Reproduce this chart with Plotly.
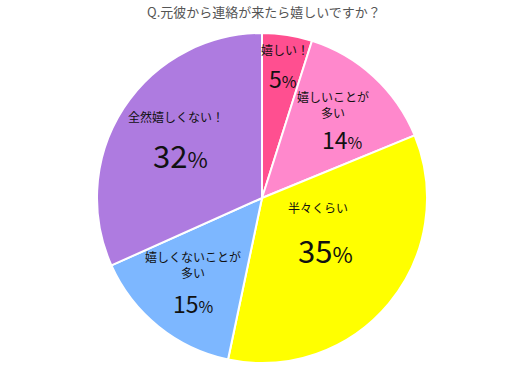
import math
import plotly.graph_objects as go

# ---- data ----
categories = ["嬉しい！", "嬉しいことが<br>多い", "半々くらい", "嬉しくないことが<br>多い", "全然嬉しくない！"]
values = [4.9, 13.9, 34.5, 15.0, 31.7]
pct_labels = ["5", "14", "35", "15", "32"]
title_text = "Q.元彼から連絡が来たら嬉しいですか？"

# ---- style ----
colors = ["#FF4F90", "#FF88CC", "#FFFF00", "#7DB7FF", "#AE7BE0"]
W, H = 525, 376
dom_px_x = (97, 427)
dom_px_y = (33, 363)  # from top
# label placement: (angle offset from slice mid in degrees, radius fraction)
label_pos = [(0.0, 0.91), (-5.6, 0.71), (-29.7, 0.345), (7.4, 0.58), (10.4, 0.716)]
pct_pos = [(1.1, 0.74), (11.2, 0.607), (-0.3, 0.495), (-5.6, 0.76), (-5.2, 0.56)]
pct_sizes = [23, 23, 31, 23, 31]
font_jp = "Noto Sans CJK JP, Noto Sans, sans-serif"

fig = go.Figure(go.Pie(
    values=values,
    labels=categories,
    sort=False,
    direction="clockwise",
    rotation=0,
    marker=dict(colors=colors, line=dict(color="white", width=2)),
    textinfo="none",
    hoverinfo="skip",
    showlegend=False,
    domain=dict(x=[dom_px_x[0] / W, dom_px_x[1] / W],
                y=[1 - dom_px_y[1] / H, 1 - dom_px_y[0] / H]),
))

cx = (dom_px_x[0] + dom_px_x[1]) / 2
cy = (dom_px_y[0] + dom_px_y[1]) / 2
R = (dom_px_x[1] - dom_px_x[0]) / 2
total = sum(values)

def to_paper(ang_deg, rfrac):
    a = math.radians(ang_deg)
    px = cx + rfrac * R * math.sin(a)
    py = cy - rfrac * R * math.cos(a)
    return px / W, 1 - py / H

annotations = []
cum = 0.0
for i, v in enumerate(values):
    mid = (cum + v / 2) / total * 360
    cum += v
    lx, ly = to_paper(mid + label_pos[i][0], label_pos[i][1])
    annotations.append(dict(x=lx, y=ly, xref="paper", yref="paper", showarrow=False,
                            text=categories[i], font=dict(family=font_jp, size=12, color="#111"),
                            xanchor="center", yanchor="middle"))
    px_, py_ = to_paper(mid + pct_pos[i][0], pct_pos[i][1])
    small = round(pct_sizes[i] * 0.7)
    annotations.append(dict(x=px_, y=py_, xref="paper", yref="paper", showarrow=False,
                            text=f"{pct_labels[i]}<span style='font-size:{small}px'>%</span>",
                            font=dict(family=font_jp, size=pct_sizes[i], color="#111"),
                            xanchor="center", yanchor="middle"))

annotations.append(dict(x=264 / W, y=1 - 12 / H, xref="paper", yref="paper", showarrow=False,
                        text=title_text, font=dict(family=font_jp, size=13, color="#555"),
                        xanchor="center", yanchor="middle"))

fig.update_layout(
    width=W, height=H,
    margin=dict(l=0, r=0, t=0, b=0),
    paper_bgcolor="white",
    plot_bgcolor="white",
    annotations=annotations,
)

fig.write_html("out.html", config={"displayModeBar": False},
               post_script="document.body.style.margin='0';document.body.style.padding='0';")
